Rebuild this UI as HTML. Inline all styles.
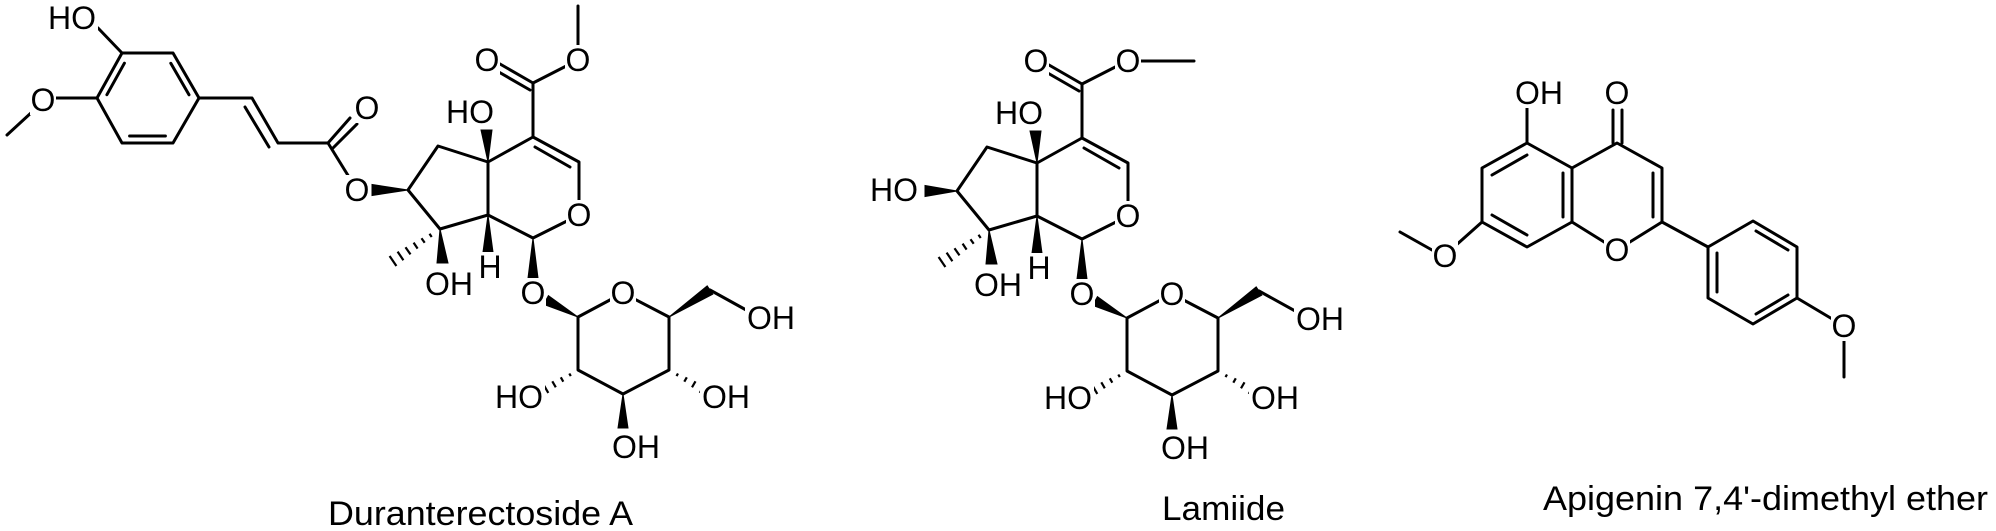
<!DOCTYPE html>
<html><head><meta charset="utf-8"><style>
html,body{margin:0;padding:0;background:#fff;}
svg{display:block;}
.b line,.b polyline{stroke:#000;stroke-width:3;fill:none;stroke-linecap:round;stroke-linejoin:round;}
.h line{stroke:#000;stroke-width:2.2;}
.w{fill:#000;stroke:#000;stroke-width:1;}
.bg{fill:#fff;stroke:none;}
.t{font-family:"Liberation Sans",Arial,sans-serif;font-size:32px;text-anchor:middle;fill:#000;}
.c{font-family:"Liberation Sans",Arial,sans-serif;font-size:34px;fill:#000;}
</style></head><body>
<svg width="1996" height="531" viewBox="0 0 1996 531" xmlns="http://www.w3.org/2000/svg">
<!-- ===== Molecule 1 ===== -->
<g class="b">
<polyline points="122,53 173,53 199,98 173,143 122,143 97,98 122,53"/>
<line x1="124.4" y1="63.2" x2="106.9" y2="94.7"/>
<line x1="170.8" y1="63.3" x2="189" y2="94.8"/>
<line x1="165.4" y1="136" x2="129.6" y2="136"/>
<line x1="122" y1="53" x2="98" y2="28"/>
<line x1="97" y1="98" x2="43" y2="98"/>
<line x1="32" y1="112" x2="7" y2="135"/>
<polyline points="199,98 252,98 278,143 328,143"/>
<line x1="245" y1="107" x2="269" y2="147"/>
<line x1="328" y1="143" x2="350" y2="118"/>
<line x1="333" y1="148" x2="357" y2="124"/>
<line x1="328" y1="143" x2="357" y2="190"/>
<polyline points="408,190 438,146 488,162 488,215 440,229 408,190"/>
<polyline points="488,162 533,137 579,162 579,215 533,238 488,215"/>
<line x1="535" y1="147" x2="570" y2="167"/>
<line x1="533" y1="137" x2="533" y2="83"/>
<line x1="533" y1="83" x2="500" y2="64"/>
<line x1="530" y1="90" x2="497" y2="71"/>
<line x1="533" y1="83" x2="578" y2="60"/>
<line x1="578" y1="60" x2="578" y2="6"/>
<polyline points="578,317 623,293 669,317 669,370 623,394 578,370 578,317"/>
<line x1="710" y1="290" x2="757" y2="316"/>
</g>
<polygon class="w" points="408,190 372,184.5 372,195.5"/>
<polygon class="w" points="488,162 481,130 492,130"/>
<polygon class="w" points="488,215 483,252 493,252"/>
<polygon class="w" points="440,229 437,263 448,263"/>
<polygon class="w" points="533,238 528,278 538,278"/>
<polygon class="w" points="578,317 548.4,295.6 543.6,304.4"/>
<polygon class="w" points="669,317 712.8,294.2 707.2,285.8"/>
<polygon class="w" points="623,394 618,428 628,428"/>
<g class="h">
<line x1="429.5" y1="233.8" x2="431.7" y2="237"/>
<line x1="421.5" y1="238.2" x2="424.7" y2="242.8"/>
<line x1="413.6" y1="242.6" x2="417.6" y2="248.6"/>
<line x1="405.5" y1="247.2" x2="410.5" y2="254.4"/>
<line x1="397.6" y1="251.6" x2="403.4" y2="260.2"/>
<line x1="389.6" y1="256" x2="396.4" y2="266"/>
<line x1="678" y1="373.5" x2="676.5" y2="376.1"/>
<line x1="686.8" y1="377.3" x2="684.3" y2="381.7"/>
<line x1="695.5" y1="381.3" x2="692" y2="387.3"/>
<line x1="704.3" y1="385.1" x2="699.8" y2="392.9"/>
<line x1="569.3" y1="373.5" x2="570.8" y2="376.1"/>
<line x1="560.8" y1="377.3" x2="563.3" y2="381.7"/>
<line x1="552.3" y1="381.3" x2="555.8" y2="387.3"/>
<line x1="543.8" y1="385.1" x2="548.3" y2="392.9"/>
</g>
<g class="bg">
<rect x="46" y="3" width="52" height="30"/>
<rect x="30" y="85" width="26" height="30"/>
<rect x="354" y="93" width="26" height="30"/>
<rect x="344" y="175" width="26" height="30"/>
<rect x="444" y="97" width="52" height="30"/>
<rect x="474" y="45" width="26" height="30"/>
<rect x="565" y="45" width="26" height="30"/>
<rect x="566" y="200" width="26" height="30"/>
<rect x="478" y="252" width="24" height="30"/>
<rect x="423" y="269" width="52" height="30"/>
<rect x="520" y="278" width="26" height="30"/>
<rect x="610" y="278" width="26" height="30"/>
<rect x="745" y="303" width="52" height="30"/>
<rect x="700" y="382" width="52" height="30"/>
<rect x="610" y="432" width="52" height="30"/>
<rect x="493" y="382" width="52" height="30"/>
</g>
<text class="t" x="72" y="29">HO</text>
<text class="t" x="43" y="111">O</text>
<text class="t" x="367" y="119">O</text>
<text class="t" x="357" y="201">O</text>
<text class="t" x="470" y="123">HO</text>
<text class="t" x="487" y="71">O</text>
<text class="t" x="578" y="71">O</text>
<text class="t" x="579" y="226">O</text>
<text class="t" x="490" y="278">H</text>
<text class="t" x="449" y="295">OH</text>
<text class="t" x="533" y="304">O</text>
<text class="t" x="623" y="304">O</text>
<text class="t" x="771" y="329">OH</text>
<text class="t" x="726" y="408">OH</text>
<text class="t" x="636" y="458">OH</text>
<text class="t" x="519" y="408">HO</text>
<text class="c" x="328" y="525" textLength="305" lengthAdjust="spacingAndGlyphs">Duranterectoside A</text>

<!-- ===== Lamiide ===== -->
<g transform="translate(549,1)">
<g class="b">
<polyline points="408,190 438,146 488,162 488,215 440,229 408,190"/>
<polyline points="488,162 533,137 579,162 579,215 533,238 488,215"/>
<line x1="535" y1="147" x2="570" y2="167"/>
<line x1="533" y1="137" x2="533" y2="83"/>
<line x1="533" y1="83" x2="500" y2="64"/>
<line x1="530" y1="90" x2="497" y2="71"/>
<line x1="533" y1="83" x2="578" y2="60"/>
<line x1="578" y1="60" x2="645" y2="60"/>
<polyline points="578,317 623,293 669,317 669,370 623,394 578,370 578,317"/>
<line x1="710" y1="290" x2="757" y2="316"/>
</g>
<polygon class="w" points="408,190 376,184.5 376,195.5"/>
<polygon class="w" points="488,162 481,130 492,130"/>
<polygon class="w" points="488,215 483,252 493,252"/>
<polygon class="w" points="440,229 437,263 448,263"/>
<polygon class="w" points="533,238 528,278 538,278"/>
<polygon class="w" points="578,317 548.4,295.6 543.6,304.4"/>
<polygon class="w" points="669,317 712.8,294.2 707.2,285.8"/>
<polygon class="w" points="623,394 618,428 628,428"/>
<g class="h">
<line x1="429.5" y1="233.8" x2="431.7" y2="237"/>
<line x1="421.5" y1="238.2" x2="424.7" y2="242.8"/>
<line x1="413.6" y1="242.6" x2="417.6" y2="248.6"/>
<line x1="405.5" y1="247.2" x2="410.5" y2="254.4"/>
<line x1="397.6" y1="251.6" x2="403.4" y2="260.2"/>
<line x1="389.6" y1="256" x2="396.4" y2="266"/>
<line x1="678" y1="373.5" x2="676.5" y2="376.1"/>
<line x1="686.8" y1="377.3" x2="684.3" y2="381.7"/>
<line x1="695.5" y1="381.3" x2="692" y2="387.3"/>
<line x1="704.3" y1="385.1" x2="699.8" y2="392.9"/>
<line x1="569.3" y1="373.5" x2="570.8" y2="376.1"/>
<line x1="560.8" y1="377.3" x2="563.3" y2="381.7"/>
<line x1="552.3" y1="381.3" x2="555.8" y2="387.3"/>
<line x1="543.8" y1="385.1" x2="548.3" y2="392.9"/>
</g>
<g class="bg">
<rect x="444" y="97" width="52" height="30"/>
<rect x="474" y="45" width="26" height="30"/>
<rect x="566" y="45" width="26" height="30"/>
<rect x="566" y="200" width="26" height="30"/>
<rect x="478" y="252" width="24" height="30"/>
<rect x="423" y="269" width="52" height="30"/>
<rect x="520" y="278" width="26" height="30"/>
<rect x="610" y="278" width="26" height="30"/>
<rect x="745" y="303" width="52" height="30"/>
<rect x="700" y="382" width="52" height="30"/>
<rect x="610" y="432" width="52" height="30"/>
<rect x="493" y="382" width="52" height="30"/>
</g>
<text class="t" x="345" y="200">HO</text>
<text class="t" x="470" y="123">HO</text>
<text class="t" x="487" y="71">O</text>
<text class="t" x="579" y="71">O</text>
<text class="t" x="579" y="226">O</text>
<text class="t" x="490" y="278">H</text>
<text class="t" x="449" y="295">OH</text>
<text class="t" x="533" y="304">O</text>
<text class="t" x="623" y="304">O</text>
<text class="t" x="771" y="329">OH</text>
<text class="t" x="726" y="408">OH</text>
<text class="t" x="636" y="458">OH</text>
<text class="t" x="519" y="408">HO</text>
</g>
<text class="c" x="1162" y="520" textLength="123" lengthAdjust="spacingAndGlyphs">Lamiide</text>

<!-- ===== Apigenin 7,4'-dimethyl ether ===== -->
<g class="b">
<polyline points="1527,143 1572,168 1572,222 1527,247 1482,222 1482,168 1527,143"/>
<line x1="1492" y1="175" x2="1527" y2="155"/>
<line x1="1563" y1="173" x2="1563" y2="217"/>
<line x1="1492" y1="215" x2="1527" y2="235"/>
<polyline points="1572,168 1617,143 1662,168 1662,222 1617,250 1572,222"/>
<line x1="1653" y1="173" x2="1653" y2="217"/>
<line x1="1613" y1="143" x2="1613" y2="110"/>
<line x1="1622" y1="143" x2="1622" y2="110"/>
<line x1="1527" y1="143" x2="1527" y2="108"/>
<line x1="1482" y1="222" x2="1445" y2="255"/>
<line x1="1432" y1="250" x2="1400" y2="232"/>
<line x1="1662" y1="222" x2="1708" y2="247"/>
<polyline points="1708,247 1753,221 1797,247 1797,298 1753,324 1708,298 1708,247"/>
<line x1="1717" y1="253" x2="1717" y2="292"/>
<line x1="1756" y1="231" x2="1788" y2="250"/>
<line x1="1788" y1="295" x2="1756" y2="314"/>
<line x1="1797" y1="298" x2="1844" y2="326"/>
<line x1="1844" y1="338" x2="1844" y2="377"/>
</g>
<g class="bg">
<rect x="1513" y="78" width="52" height="30"/>
<rect x="1604" y="78" width="26" height="30"/>
<rect x="1604" y="235" width="26" height="30"/>
<rect x="1432" y="241" width="26" height="30"/>
<rect x="1831" y="311" width="26" height="30"/>
</g>
<text class="t" x="1539" y="104">OH</text>
<text class="t" x="1617" y="104">O</text>
<text class="t" x="1617" y="261">O</text>
<text class="t" x="1445" y="267">O</text>
<text class="t" x="1844" y="337">O</text>
<text class="c" x="1543" y="510" textLength="445" lengthAdjust="spacingAndGlyphs">Apigenin 7,4'-dimethyl ether</text>
</svg>
</body></html>
